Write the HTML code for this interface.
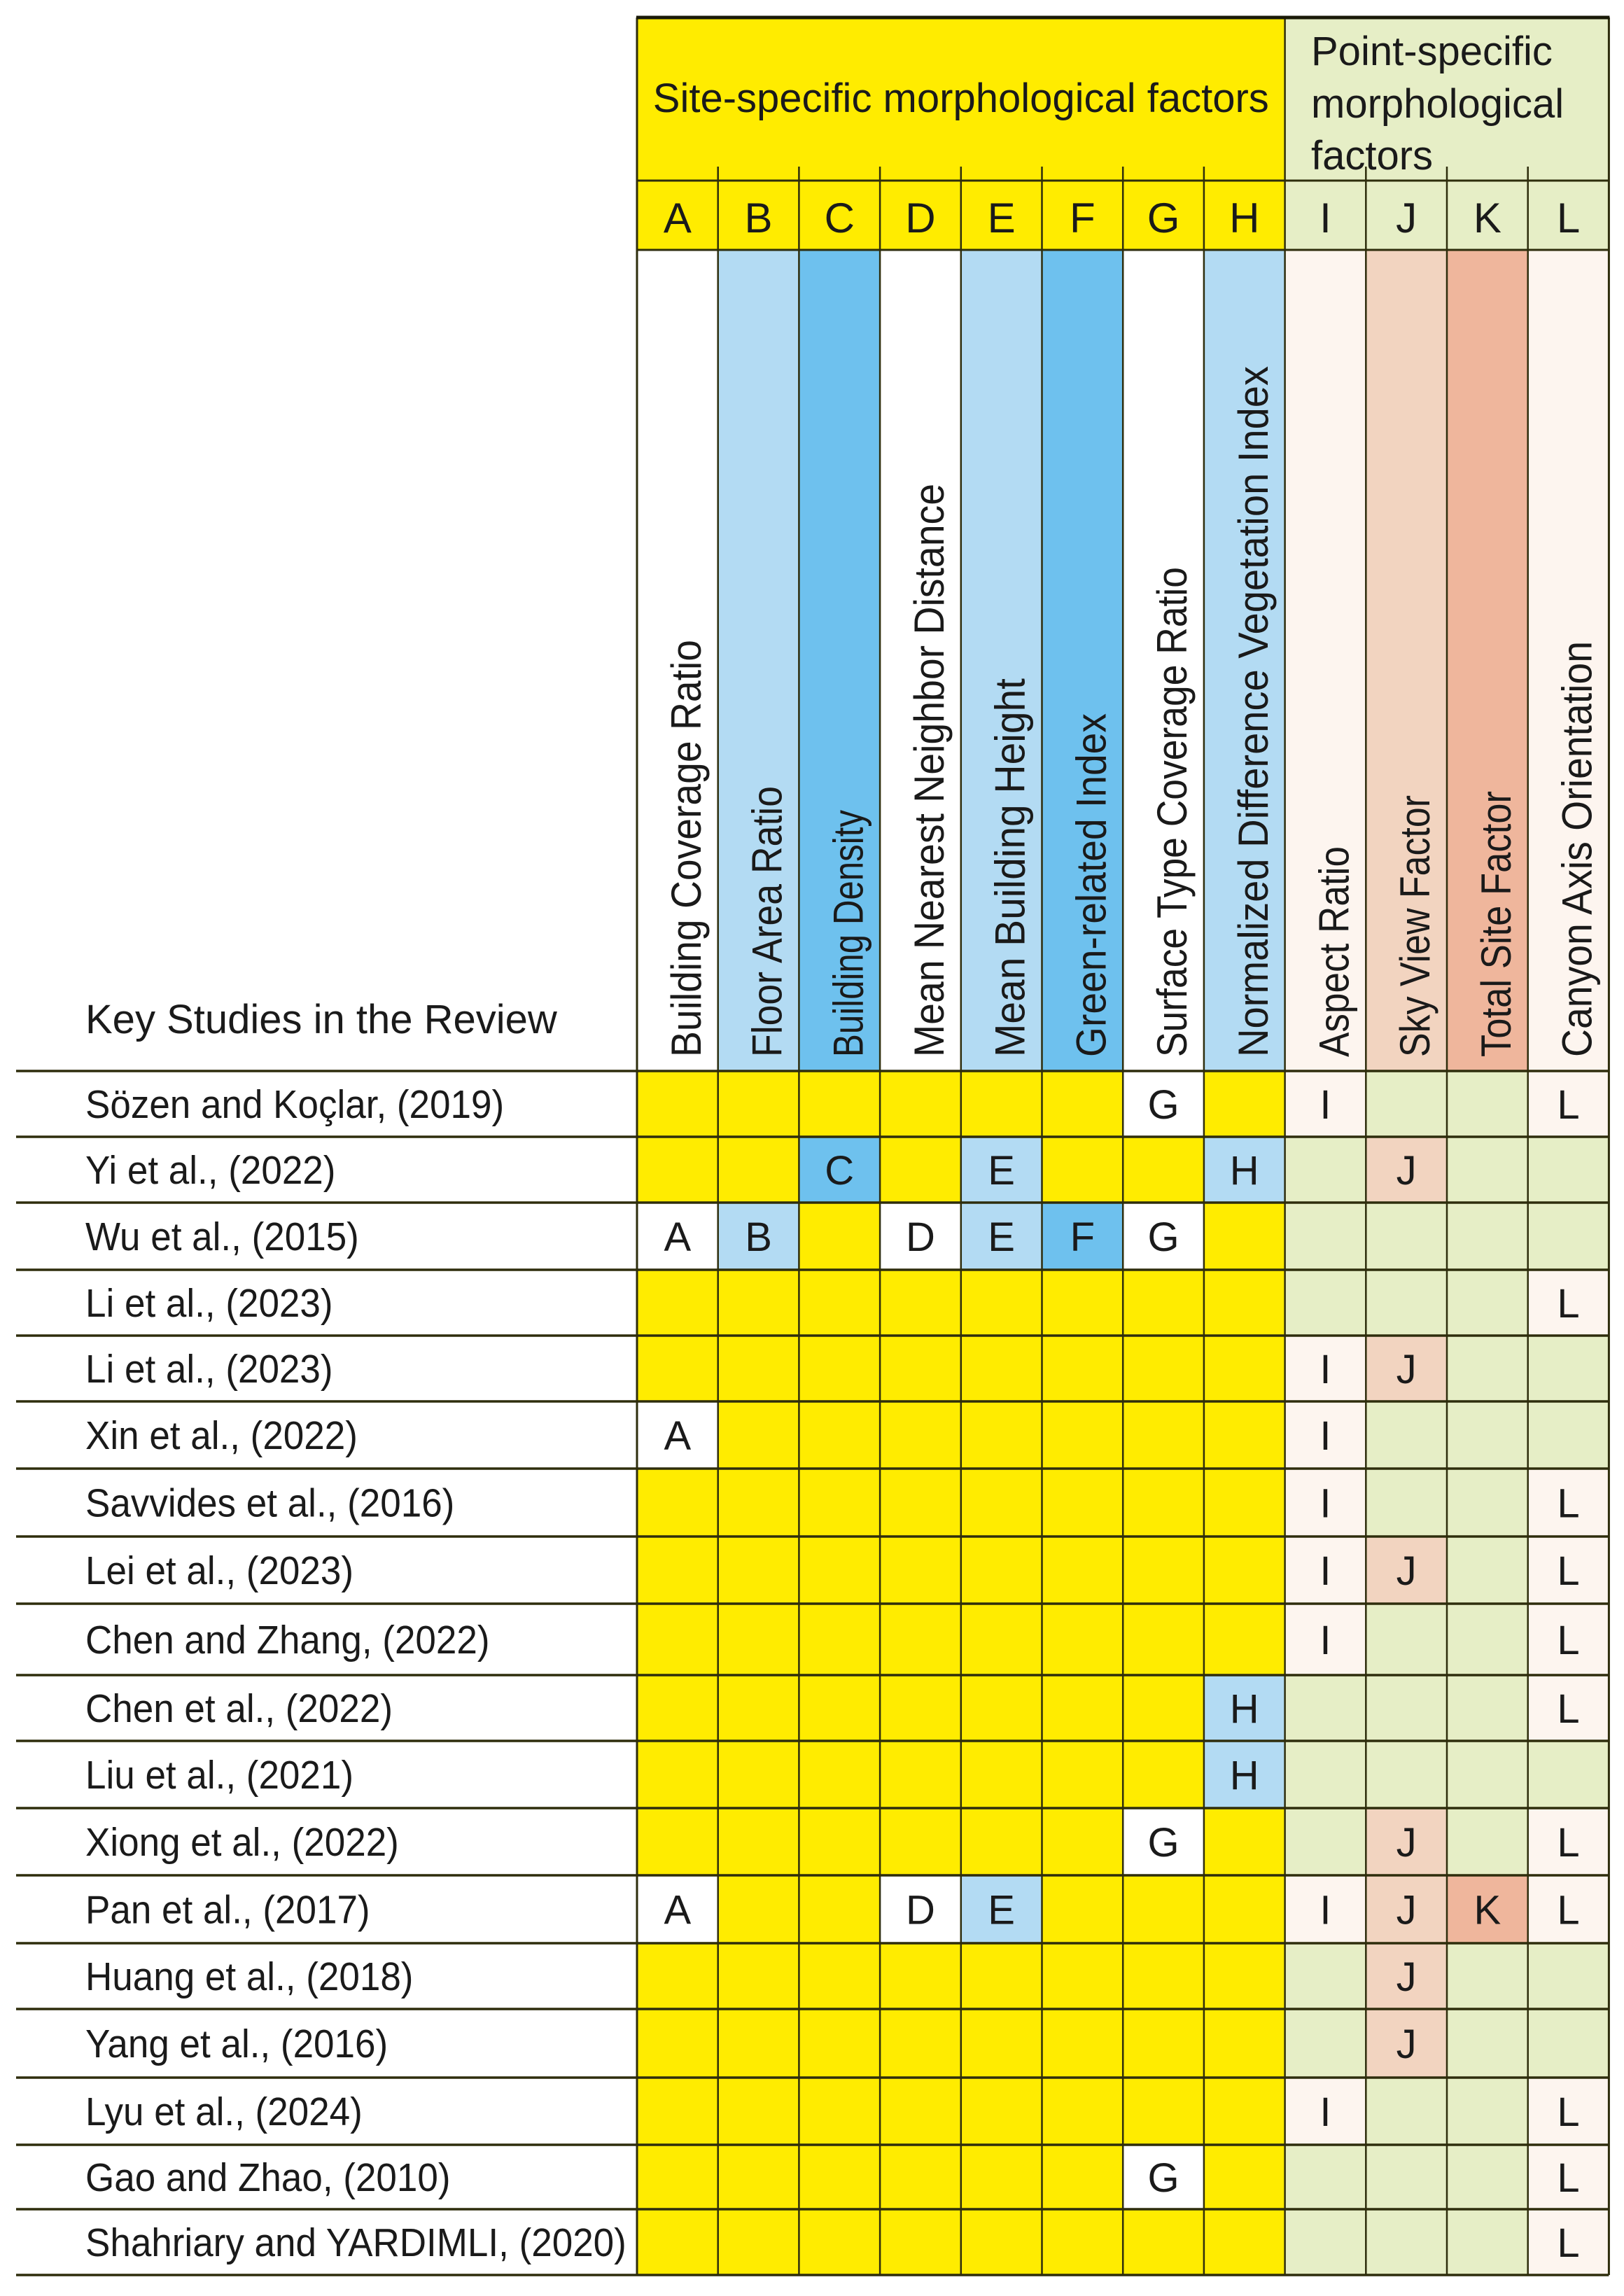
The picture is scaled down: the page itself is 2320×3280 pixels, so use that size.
<!DOCTYPE html>
<html><head><meta charset="utf-8"><style>
html,body{margin:0;padding:0;background:#fff;}
svg{display:block;}
</style></head><body>
<svg id="chart" width="2320" height="3280" viewBox="0 0 2320 3280" xmlns="http://www.w3.org/2000/svg" font-family="'Liberation Sans', sans-serif"></svg>
<script>
const columns = ['A','B','C','D','E','F','G','H','I','J','K','L'];
const columnTitles = ['Building Coverage Ratio','Floor Area Ratio','Building Density','Mean Nearest Neighbor Distance','Mean Building Height','Green-related Index','Surface Type Coverage Ratio','Normalized Difference Vegetation Index','Aspect Ratio','Sky View Factor','Total Site Factor','Canyon Axis Orientation'];
const studies = ['Sözen and Koçlar, (2019)','Yi et al., (2022)','Wu et al., (2015)','Li et al., (2023)','Li et al., (2023)','Xin et al., (2022)','Savvides et al., (2016)','Lei et al., (2023)','Chen and Zhang, (2022)','Chen et al., (2022)','Liu et al., (2021)','Xiong et al., (2022)','Pan et al., (2017)','Huang et al., (2018)','Yang et al., (2016)','Lyu et al., (2024)','Gao and Zhao, (2010)','Shahriary and YARDIMLI, (2020)'];
const marks = ['GIL','CEHJ','ABDEFG','L','IJ','AI','IL','IJL','IL','HL','H','GJL','ADEIJKL','J','J','IL','GL','L'];

const svg = document.getElementById('chart');
const NS = 'http://www.w3.org/2000/svg';
function mk(tag, attrs, parent){const e=document.createElementNS(NS,tag);for(const k in attrs)e.setAttribute(k,attrs[k]);(parent||svg).appendChild(e);return e;}

const X0=910, CW=115.7, TOP=25, H1=258, H2=357, H3=1530;
const rowY=[1530,1624,1718,1814,1908,2002,2098,2195,2291,2393,2487,2583,2679,2776,2870,2968,3064,3156,3250];
const colX=i=>X0+i*CW;
const YEL='#FFEC00', GRN='#E6EEC6';
const headColors=['#FFFFFF','#B3DBF3','#6EC1EE','#FFFFFF','#B3DBF3','#6EC1EE','#FFFFFF','#B3DBF3','#FDF5EF','#F2D4C0','#EFB69C','#FDF5EF'];
const textLens=[596,387,353,819,541,491,700,987,301,374,380,594];

let r=mk('rect',{x:X0,y:TOP,width:8*CW,height:H2-TOP,fill:YEL});


r=mk('rect',{x:colX(8),y:TOP,width:4*CW,height:H2-TOP,fill:GRN});


let t=mk('text',{x:X0+4*CW,y:160,'font-size':58,'text-anchor':'middle',fill:'#1a1a1a'});
t.textContent='Site-specific morphological factors';


['Point-specific','morphological','factors'].forEach((s,i)=>{
  const tt=mk('text',{x:1873,y:[93,168,242][i],'font-size':58,fill:'#1a1a1a'});
  tt.textContent=s;
  
  
});

columns.forEach((c,i)=>{
  const cx=colX(i)+CW/2;
  const lt=mk('text',{x:cx,y:332,'font-size':60,'text-anchor':'middle',fill:'#1a1a1a'});
  lt.textContent=c;
  
  
  const bg=mk('rect',{x:colX(i),y:H2,width:CW,height:H3-H2,fill:headColors[i]});
  
  
  const vt=mk('text',{x:0,y:0,'font-size':60,fill:'#1a1a1a',textLength:textLens[i],lengthAdjust:'spacingAndGlyphs',transform:`translate(${cx+33},1510) rotate(-90)`});
  vt.textContent=columnTitles[i];
  
  
});

t=mk('text',{x:122,y:1476,'font-size':58,fill:'#1a1a1a'});
t.textContent='Key Studies in the Review';



studies.forEach((s,ri)=>{
  const y0=rowY[ri], y1=rowY[ri+1], h=y1-y0, cy=(y0+y1)/2;
  const lab=mk('text',{x:122,y:cy+20,'font-size':57,fill:'#1a1a1a',transform:'translate(122,0) scale(0.93,1) translate(-122,0)'});
  lab.textContent=s;
  
  
  columns.forEach((c,ci)=>{
    const on=marks[ri].indexOf(c)>=0;
    const fill=on?headColors[ci]:(ci<8?YEL:GRN);
    const cell=mk('rect',{x:colX(ci),y:y0,width:CW,height:h,fill:fill});
    
    
    if(on){
      const ct=mk('text',{x:colX(ci)+CW/2,y:cy+21,'font-size':58,'text-anchor':'middle',fill:'#1a1a1a'});
      ct.textContent=c;
      
      
    }
  });
});

const LC='#2e2d0c';
for(let i=0;i<=12;i++){
  const x=colX(i);
  const yTop=(i===0||i===8||i===12)?TOP:H1-20;
  mk('line',{x1:x,y1:yTop,x2:x,y2:rowY[rowY.length-1],stroke:LC,'stroke-width':(i===0||i===12)?3:2.5});
}
mk('line',{x1:X0-1,y1:TOP,x2:colX(12)+1,y2:TOP,stroke:'#1a1a08','stroke-width':5});
mk('line',{x1:X0,y1:H1,x2:colX(12),y2:H1,stroke:LC,'stroke-width':3});
mk('line',{x1:X0,y1:H2,x2:colX(12),y2:H2,stroke:LC,'stroke-width':3});
rowY.forEach(y=>{
  mk('line',{x1:23,y1:y,x2:colX(12),y2:y,stroke:LC,'stroke-width':3.5});
});
</script>
</body></html>
